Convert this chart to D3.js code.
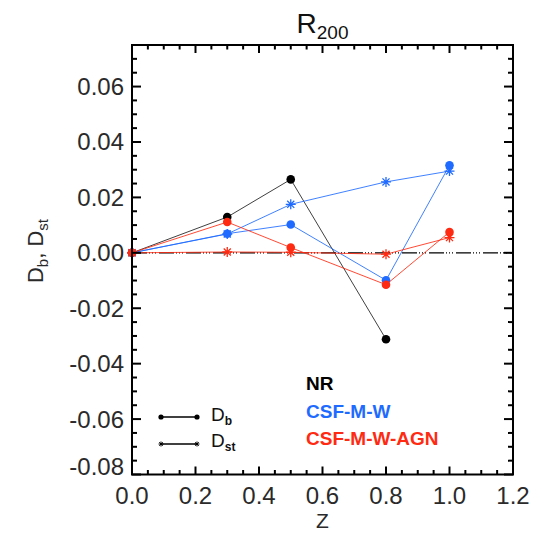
<!DOCTYPE html>
<html>
<head>
<meta charset="utf-8">
<script src="https://cdn.jsdelivr.net/npm/d3@7"></script>
<style>
  html, body { margin: 0; padding: 0; background: #fff; }
  svg { display: block; font-family: "Liberation Sans", Arial, Helvetica, sans-serif; }
</style>
</head>
<body>
<svg id="chart" width="547" height="536"></svg>
<script>
// Redshifts sampled for each run
const redshift = [0, 0.3, 0.5, 0.8, 1.0];

// Baryon (Db) and stellar (Dst) deviations within R200
const nrDb   = [0, 0.0129, 0.0265, -0.0312];
const csfDb  = [0, 0.0069, 0.0102, -0.0099, 0.0316];
const csfDst = [0, 0.0068, 0.0175, 0.0256, 0.0295];
const agnDb  = [0, 0.0111, 0.0019, -0.0115, 0.0075];
const agnDst = [0, 0.0003, 0.0002, -0.0005, 0.0055];

const xTicks = [0.0, 0.2, 0.4, 0.6, 0.8, 1.0, 1.2];
const yTicks = [-0.08, -0.06, -0.04, -0.02, 0.00, 0.02, 0.04, 0.06];
const legendNames = ["NR", "CSF-M-W", "CSF-M-W-AGN"];

const colNR = "#000000", colCSF = "#1f6bff", colAGN = "#ff2a12";

const series = [
  { values: nrDb,   color: colNR,  kind: "db"  },
  { values: csfDst, color: colCSF, kind: "dst" },
  { values: csfDb,  color: colCSF, kind: "db"  },
  { values: agnDst, color: colAGN, kind: "dst" },
  { values: agnDb,  color: colAGN, kind: "db"  }
];

const svg = d3.select("#chart");
const L = 132, R = 513, T = 45, B = 474.5;

const x = d3.scaleLinear().domain([0, 1.2]).range([L, R]);
const y = d3.scaleLinear().domain([-0.08, 0.075]).range([B, T]);

// Zero reference line (dash-dot-dot-dot)
svg.append("line")
  .attr("x1", x(0)).attr("x2", x(1.2))
  .attr("y1", y(0)).attr("y2", y(0))
  .attr("stroke", "#000").attr("stroke-width", 1.2)
  .attr("stroke-dasharray", "15,2,1,2,1,2,1,3");

// Asterisk marker path
function star(cx, cy, s) {
  const d = s * 0.707;
  return `M${cx - s},${cy}L${cx + s},${cy}M${cx},${cy - s}L${cx},${cy + s}` +
         `M${cx - d},${cy - d}L${cx + d},${cy + d}M${cx - d},${cy + d}L${cx + d},${cy - d}`;
}

const line = d3.line().x((d, i) => x(redshift[i])).y(d => y(d));

series.forEach(s => {
  const g = svg.append("g");
  g.append("path")
    .attr("d", line(s.values))
    .attr("fill", "none")
    .attr("stroke", s.color)
    .attr("stroke-width", 1)
    .attr("stroke-opacity", s.color === colNR ? 0.75 : 0.85);
  if (s.kind === "db") {
    g.selectAll("circle").data(s.values).join("circle")
      .attr("cx", (d, i) => x(redshift[i]))
      .attr("cy", d => y(d))
      .attr("r", 4.3)
      .attr("fill", s.color);
  } else {
    g.selectAll("path.m").data(s.values).join("path")
      .attr("class", "m")
      .attr("d", (d, i) => star(x(redshift[i]), y(d), 5))
      .attr("stroke", s.color)
      .attr("stroke-width", 1.3)
      .attr("fill", "none");
  }
});

// Frame
svg.append("rect")
  .attr("x", L).attr("y", T).attr("width", R - L).attr("height", B - T)
  .attr("fill", "none").attr("stroke", "#000").attr("stroke-width", 2);

// Inward ticks on all four sides
const tickG = svg.append("g").attr("stroke", "#000").attr("stroke-width", 2);
const xMinor = d3.range(0, 1.2001, 0.05);
const yMinor = d3.range(-0.08, 0.0751, 0.005);
xMinor.forEach(v => {
  const major = Math.abs(v / 0.2 - Math.round(v / 0.2)) < 1e-6;
  const len = major ? 8 : 4.5;
  tickG.append("line").attr("x1", x(v)).attr("x2", x(v)).attr("y1", B).attr("y2", B - len);
  tickG.append("line").attr("x1", x(v)).attr("x2", x(v)).attr("y1", T).attr("y2", T + len);
});
yMinor.forEach(v => {
  const major = Math.abs(v / 0.02 - Math.round(v / 0.02)) < 1e-6;
  const len = major ? 9 : 5;
  tickG.append("line").attr("x1", L).attr("x2", L + len).attr("y1", y(v)).attr("y2", y(v));
  tickG.append("line").attr("x1", R).attr("x2", R - len).attr("y1", y(v)).attr("y2", y(v));
});

// Tick labels (the bottom-most y label is nudged up clear of the x labels)
svg.append("g").selectAll("text").data(xTicks).join("text")
  .attr("x", d => x(d)).attr("y", 504)
  .attr("text-anchor", "middle").attr("font-size", 24).attr("fill", "#2a2a2a")
  .text(d => d.toFixed(1));
svg.append("g").selectAll("text").data(yTicks).join("text")
  .attr("x", 124).attr("y", d => y(d) + 8.5 - (d === -0.08 ? 8 : 0))
  .attr("text-anchor", "end").attr("font-size", 24).attr("fill", "#2a2a2a")
  .text(d => d.toFixed(2));

// Axis titles
svg.append("text").attr("x", (L + R) / 2).attr("y", 528)
  .attr("text-anchor", "middle").attr("font-size", 21).attr("fill", "#2a2a2a").text("Z");

const yl = svg.append("text")
  .attr("transform", "translate(43,251) rotate(-90)")
  .attr("text-anchor", "middle").attr("font-size", 22).attr("fill", "#2a2a2a");
yl.append("tspan").text("D");
yl.append("tspan").attr("font-size", 15).attr("dy", 5).text("b");
yl.append("tspan").attr("dy", -5).text(", D");
yl.append("tspan").attr("font-size", 15).attr("dy", 5).text("st");

const title = svg.append("text").attr("x", (L + R) / 2).attr("y", 33)
  .attr("text-anchor", "middle").attr("font-size", 28).attr("fill", "#111");
title.append("tspan").text("R");
title.append("tspan").attr("font-size", 19).attr("dy", 6).text("200");

// Model legend
const names = svg.append("g").attr("font-size", 19).attr("font-weight", "bold");
[colNR, colCSF, colAGN].forEach((c, i) => {
  names.append("text").attr("x", 306).attr("y", 390 + i * 27.5)
    .attr("fill", c).text(legendNames[i]);
});

// Symbol legend
const sym = svg.append("g");
const lx1 = 161, lx2 = 197;
sym.append("line").attr("x1", lx1).attr("x2", lx2).attr("y1", 417).attr("y2", 417)
  .attr("stroke", "#000").attr("stroke-width", 1.3);
[lx1, lx2].forEach(px => sym.append("circle").attr("cx", px).attr("cy", 417).attr("r", 2.6).attr("fill", "#000"));
sym.append("line").attr("x1", lx1).attr("x2", lx2).attr("y1", 444).attr("y2", 444)
  .attr("stroke", "#000").attr("stroke-width", 1.3);
[lx1, lx2].forEach(px => sym.append("path").attr("d", star(px, 444, 2.5))
  .attr("stroke", "#000").attr("stroke-width", 1).attr("fill", "none"));

const t1 = sym.append("text").attr("x", 211).attr("y", 421).attr("font-size", 19).attr("fill", "#111");
t1.append("tspan").text("D");
t1.append("tspan").attr("font-size", 12).attr("font-weight", "bold").attr("dy", 4).text("b");
const t2 = sym.append("text").attr("x", 211).attr("y", 447).attr("font-size", 19).attr("fill", "#111");
t2.append("tspan").text("D");
t2.append("tspan").attr("font-size", 12).attr("font-weight", "bold").attr("dy", 4).text("st");
</script>
</body>
</html>
